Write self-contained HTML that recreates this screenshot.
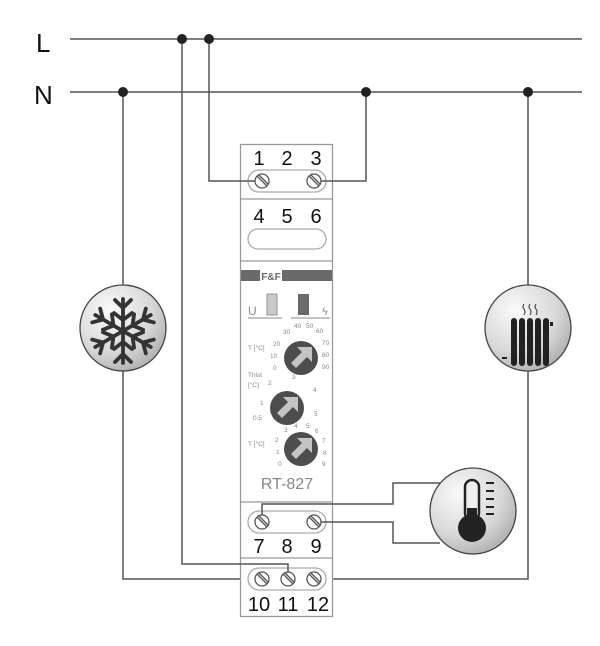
<!DOCTYPE html>
<html><head><meta charset="utf-8"><style>html,body{margin:0;padding:0;background:#fff}svg{display:block}</style></head><body>
<svg width="600" height="646" viewBox="0 0 600 646" xmlns="http://www.w3.org/2000/svg" font-family="Liberation Sans, sans-serif">
<defs>
<radialGradient id="g" cx="0.35" cy="0.3" r="0.8"><stop offset="0" stop-color="#fafafa"/><stop offset="0.6" stop-color="#d8d8d8"/><stop offset="1" stop-color="#a9a9a9"/></radialGradient>
<g id="screw"><circle r="7" fill="#fff" stroke="#555" stroke-width="1.3"/><line x1="-5" y1="-5" x2="5" y2="5" stroke="#555" stroke-width="1.3"/><line x1="-3" y1="-6" x2="6" y2="3" stroke="#555" stroke-width="1.3"/></g>
<g id="knob"><circle r="17" fill="#4d4d4d"/><path d="M-10,5 L1,-6 L-4,-11 L11,-11 L11,4 L6,-1 L-5,10 Z" fill="#c4c4c4"/></g>
</defs>
<g stroke="#555" stroke-width="1.5" fill="none">
<line x1="70" y1="39" x2="582" y2="39"/>
<line x1="70" y1="92" x2="582" y2="92"/>
<polyline points="123,92 123,579 255,579"/>
<polyline points="320,579 528,579 528,92"/>
</g>
<!-- device -->
<rect x="240.5" y="144.5" width="92" height="472" fill="#fff" stroke="#999" stroke-width="1.3"/>
<g stroke="#999" stroke-width="1.3"><line x1="240" y1="199" x2="333" y2="199"/><line x1="240" y1="261" x2="333" y2="261"/><line x1="240" y1="502" x2="333" y2="502"/><line x1="240" y1="558" x2="333" y2="558"/></g>
<g fill="none" stroke="#aaa" stroke-width="1.3">
<rect x="248" y="170" width="78" height="22" rx="11"/>
<rect x="248" y="229" width="78" height="20" rx="10"/>
<rect x="248" y="511" width="78" height="22" rx="11"/>
<rect x="248" y="568" width="78" height="22" rx="11"/>
</g>
<g stroke="#555" stroke-width="1.5" fill="none">
<polyline points="209,39 209,181 255,181"/>
<polyline points="321,181 366,181 366,92"/>
<polyline points="182,39 182,564 288,564 288,572"/>
<polyline points="262,515 262,504 393,504 393,483 440,483"/>
<polyline points="320,522 393,522 393,543 440,543"/>
</g>
<g fill="#222"><circle cx="182" cy="39" r="5"/><circle cx="209" cy="39" r="5"/><circle cx="123" cy="92" r="5"/><circle cx="366" cy="92" r="5"/><circle cx="528" cy="92" r="5"/></g>
<text x="36" y="52" font-size="26" fill="#111">L</text>
<text x="34" y="104" font-size="26" fill="#111">N</text>
<g font-size="20" fill="#111" text-anchor="middle">
<text x="259" y="165">1</text><text x="287" y="165">2</text><text x="316" y="165">3</text>
<text x="259" y="223">4</text><text x="287" y="223">5</text><text x="316" y="223">6</text>
<text x="259" y="553">7</text><text x="287" y="553">8</text><text x="316" y="553">9</text>
<text x="259" y="611">10</text><text x="288" y="611">11</text><text x="318" y="611">12</text>
</g>
<use href="#screw" x="262" y="181"/><use href="#screw" x="314" y="181"/>
<use href="#screw" x="262" y="522"/><use href="#screw" x="314" y="522"/>
<use href="#screw" x="262" y="579"/><use href="#screw" x="288" y="579"/><use href="#screw" x="314" y="579"/>
<!-- panel -->
<rect x="241" y="270" width="91" height="11" fill="#6a6a6a"/>
<rect x="260" y="270" width="22" height="11" fill="#fff"/>
<text x="271" y="280" font-size="10" font-weight="bold" fill="#6a6a6a" text-anchor="middle">F&amp;F</text>
<rect x="267" y="294" width="10" height="21" fill="#c8c8c8" stroke="#999"/>
<rect x="298" y="294" width="11" height="21" fill="#6a6a6a"/>
<text x="248" y="315" font-size="12" fill="#888">U</text>
<text x="322" y="315" font-size="11" fill="#888">ϟ</text>
<line x1="248" y1="318" x2="282" y2="318" stroke="#888"/><line x1="291" y1="318" x2="330" y2="318" stroke="#888"/>
<g font-size="6.5" fill="#888">
<text x="248" y="350">T [°C]</text>
<text x="283" y="334">30</text><text x="294" y="328">40</text><text x="306" y="328">50</text><text x="316" y="333">60</text><text x="322" y="345">70</text><text x="322" y="357">80</text><text x="322" y="369">90</text>
<text x="273" y="346">20</text><text x="270" y="358">10</text><text x="273" y="370">0</text>
<text x="248" y="377">Thist</text><text x="248" y="387">[°C]</text><text x="268" y="385">2</text><text x="292" y="379">3</text><text x="313" y="392">4</text><text x="314" y="416">5</text><text x="260" y="405">1</text><text x="253" y="420">0.5</text>
<text x="248" y="446">T [°C]</text><text x="284" y="432">3</text><text x="294" y="428">4</text><text x="306" y="428">5</text><text x="315" y="433">6</text><text x="322" y="443">7</text><text x="323" y="455">8</text><text x="322" y="466">9</text><text x="275" y="442">2</text><text x="276" y="454">1</text><text x="278" y="466">0</text>
</g>
<use href="#knob" x="301" y="358"/><use href="#knob" x="287" y="408"/><use href="#knob" x="301" y="449"/>
<text x="287" y="489" font-size="16" fill="#888" text-anchor="middle">RT-827</text>
<!-- snowflake -->
<circle cx="123" cy="328" r="43" fill="url(#g)" stroke="#444" stroke-width="1.3"/>
<g stroke="#333" stroke-width="3.8" stroke-linecap="round" fill="none" transform="translate(123,331)">
<g id="arm"><line x1="0" y1="0" x2="0" y2="-32"/><polyline points="-8,-31 0,-23 8,-31"/><polyline points="-9,-18 0,-11 9,-18"/></g>
<use href="#arm" transform="rotate(60)"/><use href="#arm" transform="rotate(120)"/><use href="#arm" transform="rotate(180)"/><use href="#arm" transform="rotate(240)"/><use href="#arm" transform="rotate(300)"/>
</g>
<!-- radiator -->
<circle cx="528" cy="328" r="43" fill="url(#g)" stroke="#444" stroke-width="1.3"/>
<g fill="#222"><rect x="511" y="318" width="6" height="48" rx="3"/><rect x="519" y="318" width="6" height="48" rx="3"/><rect x="527" y="318" width="6" height="48" rx="3"/><rect x="535" y="318" width="6" height="48" rx="3"/><rect x="543" y="318" width="6" height="48" rx="3"/><rect x="550" y="322" width="3" height="4"/><rect x="502" y="357" width="5" height="2"/></g>
<g stroke="#333" fill="none" stroke-width="1"><path d="M524,304 q-2,3 0,5 q2,3 0,6"/><path d="M530,304 q-2,3 0,5 q2,3 0,6"/><path d="M536,304 q-2,3 0,5 q2,3 0,6"/></g>
<!-- thermometer -->
<circle cx="473" cy="511" r="43" fill="url(#g)" stroke="#444" stroke-width="1.3"/>
<rect x="465" y="480" width="14" height="40" rx="7" fill="#eee" stroke="#222" stroke-width="2.5"/>
<rect x="467" y="508" width="10" height="14" fill="#222"/>
<circle cx="472" cy="528" r="14" fill="#222"/>
<g stroke="#222" stroke-width="2"><line x1="486" y1="483" x2="494" y2="483"/><line x1="486" y1="491" x2="494" y2="491"/><line x1="486" y1="499" x2="494" y2="499"/><line x1="486" y1="507" x2="494" y2="507"/><line x1="486" y1="514" x2="494" y2="514"/></g>
</svg>
</body></html>
